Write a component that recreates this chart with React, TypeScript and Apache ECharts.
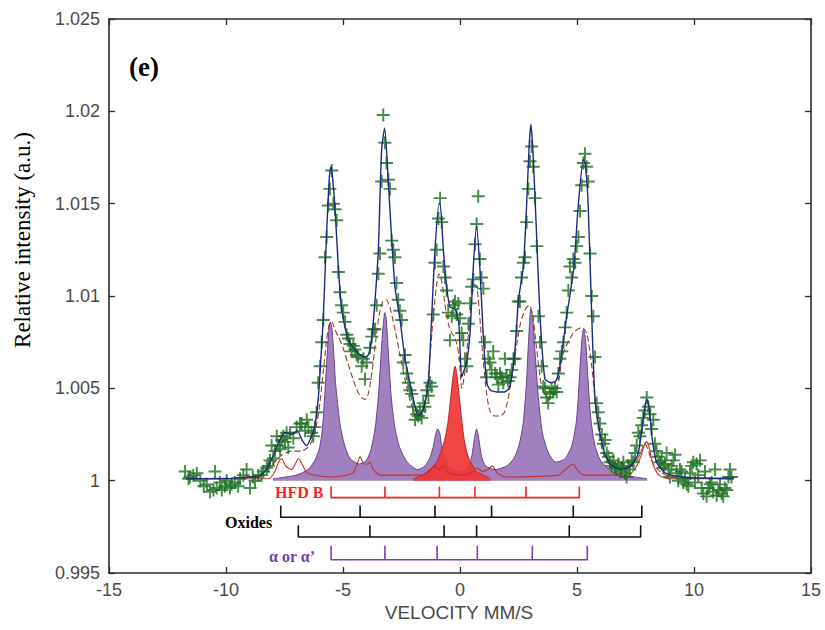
import React, { useEffect, useRef } from "react";
import * as echarts from "echarts";

// Experimental transmission points [velocity mm/s, relative intensity]
const measured: number[][] = [
  [-11.75, 1.0005], [-11.6, 1.0001], [-11.54, 1.0002], [-11.4, 1.0003], [-11.25, 1.0004], [-11.1, 1.0], [-10.95, 0.9997],
  [-10.82, 0.9998], [-10.68, 0.9994], [-10.54, 0.9995], [-10.47, 1.0005], [-10.4, 0.9996], [-10.26, 0.9999], [-10.18, 0.9995],
  [-10.05, 0.9997], [-9.97, 1.0], [-9.83, 0.9996], [-9.76, 0.9998], [-9.62, 0.9999], [-9.48, 0.9997], [-9.4, 1.0001],
  [-9.26, 1.0003], [-9.12, 1.0006], [-8.97, 0.9996], [-8.85, 1.0002], [-8.76, 1.0], [-8.62, 1.0003], [-8.48, 1.0003],
  [-8.4, 1.0005], [-8.26, 1.0007], [-8.19, 1.0008], [-8.12, 1.0011], [-8.05, 1.0019], [-7.98, 1.0012], [-7.9, 1.0016],
  [-7.83, 1.0024], [-7.76, 1.0019], [-7.69, 1.0017], [-7.62, 1.0022], [-7.55, 1.0024], [-7.48, 1.0021], [-7.41, 1.0026],
  [-7.34, 1.0018], [-7.26, 1.0026], [-7.12, 1.0023], [-6.98, 1.0029], [-6.84, 1.0031], [-6.77, 1.0031], [-6.62, 1.0027],
  [-6.55, 1.0033], [-6.48, 1.0029], [-6.34, 1.0026], [-6.27, 1.0024], [-6.2, 1.0029], [-6.13, 1.0037], [-6.06, 1.0053],
  [-5.98, 1.0062], [-5.91, 1.0075], [-5.84, 1.0087], [-5.77, 1.0121], [-5.7, 1.0132], [-5.63, 1.0149], [-5.56, 1.0158],
  [-5.48, 1.0168], [-5.41, 1.015], [-5.34, 1.0147], [-5.27, 1.0141], [-5.2, 1.0113], [-5.13, 1.0102], [-5.06, 1.0095],
  [-4.99, 1.0091], [-4.91, 1.0086], [-4.84, 1.0079], [-4.77, 1.0077], [-4.7, 1.0074], [-4.63, 1.007], [-4.56, 1.0073],
  [-4.49, 1.0071], [-4.42, 1.0068], [-4.35, 1.0067], [-4.2, 1.0062], [-4.13, 1.0066], [-4.06, 1.0055], [-3.99, 1.0064],
  [-3.85, 1.0072], [-3.77, 1.0078], [-3.7, 1.0082], [-3.63, 1.0082], [-3.56, 1.0095], [-3.49, 1.0112], [-3.42, 1.0123],
  [-3.35, 1.0162], [-3.28, 1.0198], [-3.21, 1.0183], [-3.14, 1.0172], [-3.06, 1.0163], [-2.99, 1.0158], [-2.92, 1.013],
  [-2.85, 1.0125], [-2.78, 1.0121], [-2.71, 1.0107], [-2.64, 1.0098], [-2.57, 1.0092], [-2.49, 1.0087], [-2.42, 1.0064],
  [-2.35, 1.0068], [-2.28, 1.0058], [-2.21, 1.0053], [-2.14, 1.0049], [-2.07, 1.0047], [-2.0, 1.004], [-1.92, 1.0033],
  [-1.85, 1.0036], [-1.78, 1.0035], [-1.71, 1.0038], [-1.64, 1.0034], [-1.57, 1.0042], [-1.5, 1.004], [-1.42, 1.0049],
  [-1.35, 1.0046], [-1.28, 1.0053], [-1.21, 1.0051], [-1.14, 1.009], [-1.07, 1.0118], [-1.0, 1.0125], [-0.92, 1.0142],
  [-0.85, 1.0153], [-0.78, 1.014], [-0.71, 1.0116], [-0.64, 1.011], [-0.57, 1.0103], [-0.5, 1.0091], [-0.43, 1.0076],
  [-0.35, 1.0089], [-0.28, 1.0095], [-0.21, 1.0097], [-0.14, 1.009], [-0.07, 1.0096], [0.0, 1.0088], [0.07, 1.008],
  [0.14, 1.0076], [0.21, 1.0066], [0.29, 1.0062], [0.36, 1.0085], [0.43, 1.0096], [0.5, 1.0105], [0.57, 1.0109],
  [0.64, 1.0128], [0.71, 1.0139], [0.78, 1.0154], [0.85, 1.012], [0.92, 1.011], [1.0, 1.0104], [1.07, 1.0075],
  [1.14, 1.0056], [1.21, 1.0066], [1.28, 1.0064], [1.35, 1.006], [1.42, 1.007], [1.5, 1.0058], [1.57, 1.0056],
  [1.64, 1.0052], [1.71, 1.0058], [1.78, 1.0056], [1.85, 1.0053], [1.92, 1.0066], [1.99, 1.0057], [2.06, 1.0054],
  [2.14, 1.0056], [2.21, 1.006], [2.28, 1.0066], [2.35, 1.0066], [2.42, 1.0081], [2.49, 1.0097], [2.56, 1.0097],
  [2.63, 1.011], [2.71, 1.0118], [2.78, 1.0121], [2.85, 1.014], [2.92, 1.0158], [2.99, 1.0173], [3.06, 1.0181],
  [3.13, 1.017], [3.21, 1.0153], [3.28, 1.0127], [3.35, 1.0089], [3.42, 1.0075], [3.49, 1.0062], [3.56, 1.0051],
  [3.63, 1.005], [3.7, 1.0045], [3.77, 1.0042], [3.84, 1.0047], [3.91, 1.005], [3.99, 1.0048], [4.06, 1.005],
  [4.13, 1.0048], [4.2, 1.0058], [4.27, 1.0066], [4.35, 1.007], [4.42, 1.0075], [4.49, 1.0083], [4.56, 1.0091],
  [4.63, 1.0103], [4.7, 1.0116], [4.77, 1.011], [4.84, 1.012], [4.91, 1.0118], [4.99, 1.0127], [5.06, 1.0132],
  [5.13, 1.0146], [5.2, 1.016], [5.27, 1.0172], [5.34, 1.0177], [5.41, 1.017], [5.48, 1.0162], [5.56, 1.0123],
  [5.63, 1.01], [5.7, 1.0089], [5.77, 1.0067], [5.84, 1.0042], [5.91, 1.0037], [5.98, 1.0031], [6.06, 1.0025],
  [6.13, 1.002], [6.2, 1.0022], [6.27, 1.0015], [6.34, 1.0013], [6.41, 1.001], [6.48, 1.0008], [6.55, 1.0011],
  [6.62, 1.0007], [6.7, 1.0006], [6.77, 1.0009], [6.84, 1.0005], [6.91, 1.0007], [6.98, 1.001], [7.05, 1.0004],
  [7.12, 1.0002], [7.19, 1.0008], [7.26, 1.0006], [7.34, 1.0011], [7.41, 1.001], [7.48, 1.0015], [7.55, 1.0019],
  [7.62, 1.0026], [7.69, 1.0024], [7.76, 1.003], [7.83, 1.0034], [7.9, 1.0038], [7.98, 1.0045], [8.05, 1.004],
  [8.12, 1.0036], [8.19, 1.0028], [8.26, 1.0033], [8.33, 1.002], [8.4, 1.0016], [8.48, 1.0013], [8.55, 1.001],
  [8.62, 1.0011], [8.69, 1.0007], [8.76, 1.0009], [8.83, 1.0015], [8.9, 1.0006], [8.97, 1.0002], [9.04, 1.0008],
  [9.12, 1.0011], [9.19, 1.0014], [9.26, 1.0004], [9.33, 1.0], [9.4, 1.0006], [9.47, 1.0005], [9.55, 0.9999],
  [9.62, 1.0001], [9.69, 0.9998], [9.76, 0.9997], [9.83, 1.0004], [9.9, 1.0008], [9.97, 1.001], [10.04, 0.9999],
  [10.11, 1.0009], [10.18, 1.0003], [10.26, 1.0011], [10.33, 0.9996], [10.4, 0.9993], [10.47, 1.0005], [10.54, 0.99915],
  [10.61, 0.9996], [10.68, 0.9998], [10.75, 0.9999], [10.82, 0.9994], [10.9, 1.0006], [10.97, 0.9992], [11.04, 0.9995],
  [11.11, 0.9998], [11.18, 0.9993], [11.25, 0.99915], [11.32, 0.9996], [11.4, 0.9995], [11.47, 1.0002], [11.54, 1.0006],
  [11.6, 1.0002],
];

// Total fit (blue)
const totalFit: number[][] = [
  [-11.7, 1.0001], [-10, 1.0001], [-9, 1.0002], [-8.6, 1.0002], [-8.3, 1.0006], [-8.0, 1.0013], [-7.7, 1.0022],
  [-7.45, 1.0026], [-7.2, 1.0025], [-6.95, 1.0027], [-6.75, 1.0022], [-6.55, 1.0019], [-6.35, 1.0024], [-6.2, 1.003],
  [-6.06, 1.0044], [-5.95, 1.0065], [-5.84, 1.0089], [-5.7, 1.0134], [-5.58, 1.0165], [-5.51, 1.017], [-5.43, 1.0162],
  [-5.34, 1.0147], [-5.2, 1.0116], [-5.06, 1.0093], [-4.77, 1.0076], [-4.35, 1.0069], [-4.06, 1.0067], [-3.92, 1.0068],
  [-3.78, 1.0076], [-3.63, 1.0098], [-3.49, 1.0125], [-3.35, 1.0179], [-3.22, 1.0191], [-3.06, 1.0161], [-2.92, 1.0131],
  [-2.78, 1.0105], [-2.56, 1.0087], [-2.35, 1.0066], [-2.14, 1.0053], [-1.92, 1.004], [-1.78, 1.0035], [-1.6, 1.0038],
  [-1.5, 1.0042], [-1.35, 1.0053], [-1.21, 1.0089], [-1.07, 1.0125], [-0.9, 1.015], [-0.85, 1.015], [-0.71, 1.0125],
  [-0.57, 1.0105], [-0.43, 1.0094], [-0.21, 1.0093], [-0.05, 1.0085], [0.07, 1.0056], [0.18, 1.006], [0.29, 1.0064],
  [0.43, 1.008], [0.57, 1.0116], [0.71, 1.0138], [0.85, 1.0115], [0.99, 1.008], [1.14, 1.0053], [1.3, 1.0049],
  [1.6, 1.0048], [1.9, 1.0048], [2.1, 1.005], [2.21, 1.0056], [2.35, 1.0071], [2.5, 1.0098], [2.71, 1.0116],
  [2.85, 1.015], [2.95, 1.018], [3.03, 1.0193], [3.12, 1.0178], [3.25, 1.014], [3.42, 1.0089], [3.63, 1.0055],
  [3.9, 1.0053], [4.1, 1.0054], [4.27, 1.0062], [4.56, 1.0089], [4.87, 1.0116], [5.04, 1.0147], [5.27, 1.0174],
  [5.35, 1.0172], [5.47, 1.0152], [5.63, 1.0089], [5.77, 1.0044], [5.98, 1.0026], [6.2, 1.0014], [6.5, 1.0008],
  [6.9, 1.0006], [7.3, 1.0008], [7.6, 1.0014], [7.8, 1.003], [7.9, 1.004], [7.98, 1.0044], [8.08, 1.004],
  [8.2, 1.0024], [8.4, 1.001], [8.8, 1.0004], [9.5, 1.0002], [11.7, 1.0001],
];

// Hyperfine-distribution (HFD B) subspectrum, dashed brown
const hfdCurve: number[][] = [
  [-11.7, 1.0001], [-9, 1.0002], [-8.3, 1.0005], [-8.0, 1.0009], [-7.6, 1.0014], [-7.2, 1.0016], [-6.8, 1.0016],
  [-6.5, 1.0018], [-6.25, 1.0024], [-6.05, 1.0036], [-5.85, 1.0058], [-5.7, 1.0076], [-5.58, 1.0085], [-5.48, 1.0086],
  [-5.35, 1.0082], [-5.2, 1.0078], [-5.0, 1.0072], [-4.8, 1.0064], [-4.6, 1.0056], [-4.4, 1.0049], [-4.2, 1.0045],
  [-4.05, 1.0044], [-3.9, 1.0048], [-3.75, 1.006], [-3.6, 1.0076], [-3.45, 1.009], [-3.3, 1.0097], [-3.15, 1.0098],
  [-3.0, 1.0094], [-2.85, 1.0086], [-2.7, 1.0077], [-2.5, 1.0064], [-2.3, 1.0052], [-2.1, 1.0042], [-1.9, 1.0035],
  [-1.75, 1.0033], [-1.6, 1.0036], [-1.45, 1.0045], [-1.3, 1.0064], [-1.15, 1.0088], [-1.0, 1.0106], [-0.9, 1.0112],
  [-0.78, 1.0108], [-0.65, 1.0096], [-0.5, 1.0085], [-0.35, 1.008], [-0.2, 1.0077], [-0.05, 1.0068], [0.08, 1.005],
  [0.2, 1.0058], [0.35, 1.0078], [0.5, 1.0098], [0.62, 1.0106], [0.72, 1.0105], [0.85, 1.0088], [1.0, 1.0064],
  [1.15, 1.0046], [1.3, 1.0037], [1.5, 1.0035], [1.7, 1.0035], [1.9, 1.0037], [2.05, 1.0044], [2.2, 1.0055],
  [2.4, 1.0072], [2.6, 1.0086], [2.8, 1.0093], [2.95, 1.0095], [3.1, 1.009], [3.28, 1.0071], [3.49, 1.0051],
  [3.78, 1.0044], [4.13, 1.0049], [4.42, 1.0069], [4.84, 1.008], [5.2, 1.0083], [5.41, 1.008], [5.63, 1.0062],
  [5.84, 1.0035], [6.05, 1.0018], [6.3, 1.001], [6.7, 1.0007], [7.2, 1.0008], [7.6, 1.0012], [7.9, 1.002],
  [8.3, 1.0008], [9, 1.0002], [11.7, 1.0001],
];

// Oxide subspectra (thin line near the baseline)
const oxideCurve: number[][] = [
  [-11.7, 1.0001], [-8.2, 1.0001], [-7.95, 1.0004], [-7.75, 1.001], [-7.62, 1.0012], [-7.45, 1.0008], [-7.2, 1.0006],
  [-7.0, 1.001], [-6.9, 1.0012], [-6.75, 1.0009], [-6.5, 1.0004], [-5.5, 1.0002], [-4.6, 1.0004], [-4.4, 1.0009],
  [-4.27, 1.0013], [-4.1, 1.0009], [-3.95, 1.0009], [-3.85, 1.001], [-3.7, 1.0006], [-3.4, 1.0003], [-1.6, 1.0003],
  [-1.3, 1.0005], [-1.1, 1.0008], [-0.9, 1.0006], [-0.7, 1.0008], [-0.5, 1.0004], [0.3, 1.0003], [0.55, 1.0005],
  [0.72, 1.0007], [0.95, 1.0005], [1.2, 1.0006], [1.38, 1.0008], [1.6, 1.0004], [2.0, 1.0002], [4.2, 1.0003],
  [4.5, 1.0006], [4.7, 1.0008], [4.84, 1.0009], [5.0, 1.0006], [5.3, 1.0003], [7.2, 1.0003], [7.55, 1.0008],
  [7.75, 1.0014], [7.9, 1.002], [7.98, 1.0021], [8.08, 1.0018], [8.25, 1.0009], [8.5, 1.0003], [9.0, 1.0001],
  [11.7, 1.0001],
];

// alpha / alpha' sextet (purple filled)
const alphaCurve: number[][] = [
  [-8.0, 1.0001], [-7.0, 1.0003], [-6.5, 1.0006], [-6.2, 1.0011], [-6.0, 1.0018], [-5.88, 1.0028], [-5.8, 1.0042],
  [-5.7, 1.0063], [-5.62, 1.0079], [-5.55, 1.0086], [-5.48, 1.0083], [-5.4, 1.007], [-5.32, 1.0053], [-5.25, 1.0044],
  [-5.12, 1.003], [-4.95, 1.002], [-4.7, 1.0012], [-4.3, 1.0009], [-4.0, 1.0011], [-3.8, 1.0017], [-3.62, 1.0029],
  [-3.48, 1.0047], [-3.36, 1.0071], [-3.27, 1.0086], [-3.21, 1.0091], [-3.15, 1.0087], [-3.06, 1.0069], [-2.95, 1.0047],
  [-2.8, 1.003], [-2.58, 1.0018], [-2.25, 1.001], [-1.8, 1.0006], [-1.5, 1.0008], [-1.3, 1.0012], [-1.15, 1.0018],
  [-1.04, 1.0025], [-0.95, 1.0028], [-0.87, 1.0026], [-0.76, 1.0017], [-0.6, 1.001], [-0.3, 1.0006], [0.1, 1.0005],
  [0.35, 1.0007], [0.5, 1.0013], [0.62, 1.0023], [0.71, 1.0028], [0.8, 1.0023], [0.92, 1.0013], [1.1, 1.0008],
  [1.5, 1.0006], [2.0, 1.0008], [2.3, 1.0012], [2.52, 1.0019], [2.7, 1.0031], [2.83, 1.0051], [2.94, 1.0078],
  [3.03, 1.0093], [3.11, 1.0088], [3.21, 1.0069], [3.35, 1.0045], [3.52, 1.0026], [3.78, 1.0015], [4.1, 1.001],
  [4.5, 1.0012], [4.8, 1.002], [4.98, 1.0033], [5.1, 1.0055], [5.2, 1.0075], [5.28, 1.0082], [5.36, 1.0077],
  [5.46, 1.0057], [5.58, 1.0035], [5.75, 1.002], [6.0, 1.0011], [6.5, 1.0005], [7.0, 1.0003], [8.0, 1.0001],
];

// central singlet (red filled)
const singletCurve: number[][] = [
  [-2.0, 1.0001], [-1.6, 1.0003], [-1.2, 1.0007], [-1.0, 1.001], [-0.8, 1.0016], [-0.62, 1.0024], [-0.5, 1.0033],
  [-0.38, 1.0047], [-0.28, 1.0058], [-0.21, 1.0062], [-0.14, 1.0058], [-0.02, 1.0044], [0.08, 1.0032], [0.18, 1.0022],
  [0.3, 1.0015], [0.45, 1.001], [0.7, 1.0005], [1.0, 1.0003], [1.3, 1.0001],
];

// Stick diagrams: line positions (mm/s) and [base, top] levels
const hfdSticks = [-5.51, -3.21, -0.88, 0.64, 2.82, 5.1];
const hfdLevels = [0.99908, 0.99968];
const oxideSticksA = [-7.66, -4.27, -1.07, 1.35, 4.84, 7.77];
const oxideLevelsA = [0.99802, 0.99865];
const oxideSticksB = [-6.91, -3.85, -0.68, 0.71, 4.67, 7.72];
const oxideLevelsB = [0.99695, 0.99758];
const alphaSticks = [-5.51, -3.21, -0.98, 0.74, 3.09, 5.44];
const alphaLevels = [0.99572, 0.99648];

function comb(xs: number[], levels: number[]): number[][] {
  const [base, top] = levels;
  const pts: number[][] = [];
  xs.forEach((x, i) => {
    if (i > 0) pts.push([x, base]);
    pts.push([x, top]);
    pts.push([x, base]);
  });
  return pts;
}

const PLUS = "path://M4.25,0H5.75V4.25H10V5.75H5.75V10H4.25V5.75H0V4.25H4.25Z";
const SANS = "'Liberation Sans', Arial, sans-serif";
const SERIF = "'Liberation Serif', 'Times New Roman', serif";

export default function App() {
  const ref = useRef<HTMLDivElement>(null);
  useEffect(() => {
    if (!ref.current) return;
    const chart = echarts.init(ref.current, undefined, { renderer: "svg" });
    const axisLine = { show: true, onZero: false, lineStyle: { color: "#2b2b2b", width: 1.6 } };
    const axisTick = { show: true, inside: true, length: 6, lineStyle: { color: "#2b2b2b", width: 1.3 } };
    const label = { color: "#4a4a4a", fontSize: 18, fontFamily: SANS };
    const stickSeries = (data: number[][], color: string) => ({
      type: "line",
      data,
      showSymbol: false,
      symbol: "none",
      lineStyle: { color, width: 1.6 },
      z: 5,
      silent: true,
    });
    chart.setOption({
      animation: false,
      backgroundColor: "#ffffff",
      grid: { left: 109, right: 14, top: 19, bottom: 57 },
      xAxis: [
        {
          type: "value", min: -15, max: 15, interval: 5, position: "bottom",
          axisLine, axisTick, axisLabel: { ...label, margin: 8 }, splitLine: { show: false },
        },
        {
          type: "value", min: -15, max: 15, interval: 5, position: "top",
          axisLine, axisTick, axisLabel: { show: false }, splitLine: { show: false },
        },
      ],
      yAxis: [
        {
          type: "value", min: 0.995, max: 1.025, interval: 0.005, position: "left",
          axisLine, axisTick, splitLine: { show: false },
          axisLabel: { ...label, margin: 9, formatter: (v: number) => String(parseFloat(v.toFixed(3))) },
        },
        {
          type: "value", min: 0.995, max: 1.025, interval: 0.005, position: "right",
          axisLine, axisTick, axisLabel: { show: false }, splitLine: { show: false },
        },
      ],
      series: [
        {
          type: "line", data: alphaCurve, showSymbol: false, symbol: "none", smooth: 0.25,
          lineStyle: { color: "#6b3f8e", width: 1 },
          areaStyle: { color: "#9b79ba", opacity: 0.95, origin: 1 },
          z: 1,
        },
        {
          type: "line", data: singletCurve, showSymbol: false, symbol: "none", smooth: 0.25,
          lineStyle: { color: "#c81e1e", width: 1 },
          areaStyle: { color: "#f03535", opacity: 0.92, origin: 1 },
          z: 2,
        },
        {
          type: "line", data: oxideCurve, showSymbol: false, symbol: "none", smooth: 0.25,
          lineStyle: { color: "#c4302a", width: 1.1 },
          z: 3,
        },
        {
          type: "line", data: hfdCurve, showSymbol: false, symbol: "none", smooth: 0.25,
          lineStyle: { color: "#9e3a30", width: 1.1, type: [6, 3] },
          z: 3,
        },
        {
          type: "scatter", data: measured, symbol: PLUS, symbolSize: 13,
          itemStyle: { color: "#1c6e1f" },
          z: 4,
        },
        {
          type: "line", data: totalFit, showSymbol: false, symbol: "none", smooth: 0.2,
          lineStyle: { color: "#1d2a7c", width: 1.4 },
          z: 5,
        },
        stickSeries(comb(hfdSticks, hfdLevels), "#ff1f1f"),
        stickSeries(comb(oxideSticksA, oxideLevelsA), "#111111"),
        stickSeries(comb(oxideSticksB, oxideLevelsB), "#111111"),
        stickSeries(comb(alphaSticks, alphaLevels), "#7b3db3"),
      ],
      graphic: [
        {
          type: "text", x: 129, y: 67,
          style: { text: "(e)", font: `bold 27px ${SERIF}`, fill: "#000", align: "left", verticalAlign: "middle", textAlign: "left", textVerticalAlign: "middle" },
        },
        {
          type: "text", x: 22, y: 240, rotation: Math.PI / 2,
          style: { text: "Relative intensity (a.u.)", font: `23px ${SERIF}`, fill: "#000", align: "center", verticalAlign: "middle", textAlign: "center", textVerticalAlign: "middle" },
        },
        {
          type: "text", x: 459, y: 612,
          style: { text: "VELOCITY MM/S", font: `19px ${SANS}`, fill: "#4a4a4a", align: "center", verticalAlign: "middle", textAlign: "center", textVerticalAlign: "middle" },
        },
        {
          type: "text", x: 275, y: 492,
          style: { text: "HFD B", font: `bold 16px ${SERIF}`, fill: "#ff1f1f", align: "left", verticalAlign: "middle", textAlign: "left", textVerticalAlign: "middle" },
        },
        {
          type: "text", x: 225, y: 522,
          style: { text: "Oxides", font: `bold 16px ${SERIF}`, fill: "#000", align: "left", verticalAlign: "middle", textAlign: "left", textVerticalAlign: "middle" },
        },
        {
          type: "text", x: 269, y: 556,
          style: { text: "α or α’", font: `bold 16px ${SERIF}`, fill: "#7b3db3", align: "left", verticalAlign: "middle", textAlign: "left", textVerticalAlign: "middle" },
        },
      ],
    });
    return () => chart.dispose();
  }, []);
  return (
    <div
      ref={ref}
      style={{ position: "fixed", left: 0, top: 0, width: 825, height: 630, background: "#fff" }}
    />
  );
}
